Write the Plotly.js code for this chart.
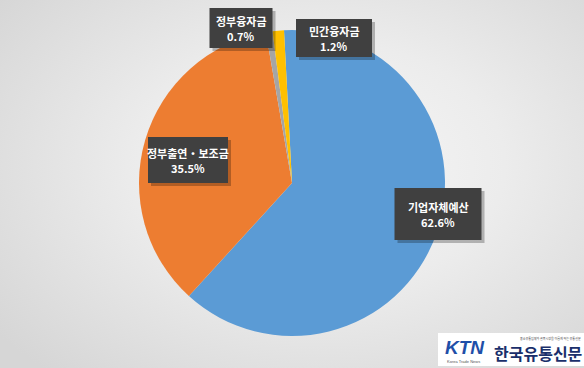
<!DOCTYPE html>
<html>
<head>
<meta charset="utf-8">
<script src="https://cdn.plot.ly/plotly-3.0.1.min.js"></script>
<style>
html, body { margin:0; padding:0; width:584px; height:368px; overflow:hidden;
  background: radial-gradient(ellipse 70% 75% at 55% 45%, #f7f7f7 0%, #ececec 45%, #d6d6d6 100%); }
#chart { width:584px; height:368px; }
</style>
</head>
<body>
<div id="chart"></div>
<script>
const categories = ['기업자체예산', '정부출연・보조금', '정부융자금', '민간융자금'];
const values = [62.6, 35.5, 0.7, 1.2];
const valueLabels = ['62.6%', '35.5%', '0.7%', '1.2%'];
const colors = ['#5B9BD5', '#ED7D31', '#A5A5A5', '#FFC000'];

const W = 584, H = 368;
// label box placements (pixel centre x, y, width, height)
const boxes = [
  {cx: 438, cy: 214, w: 87, h: 52},
  {cx: 188, cy: 160, w: 80, h: 46},
  {cx: 241, cy: 28, w: 63, h: 40},
  {cx: 334, cy: 38, w: 76, h: 38}
];

const px = v => v / W;
const py = v => 1 - v / H;

const shapes = [];
const annotations = [];
const lblFont = {family: 'Noto Sans CJK KR, sans-serif', size: 11, color: '#ffffff', weight: 700};
categories.forEach((c, i) => {
  const b = boxes[i];
  shapes.push({
    type: 'rect', xref: 'paper', yref: 'paper', layer: 'above',
    x0: px(b.cx - b.w / 2 + 3), x1: px(b.cx + b.w / 2 + 3),
    y0: py(b.cy + b.h / 2 + 3), y1: py(b.cy - b.h / 2 + 3),
    fillcolor: 'rgba(0,0,0,0.25)', line: {width: 0}
  });
  shapes.push({
    type: 'rect', xref: 'paper', yref: 'paper', layer: 'above',
    x0: px(b.cx - b.w / 2), x1: px(b.cx + b.w / 2),
    y0: py(b.cy + b.h / 2), y1: py(b.cy - b.h / 2),
    fillcolor: '#404040', line: {width: 0}
  });
  annotations.push({
    xref: 'paper', yref: 'paper', x: px(b.cx), y: py(b.cy - 7),
    xanchor: 'center', yanchor: 'middle', showarrow: false, borderpad: 0,
    text: c, font: lblFont
  });
  annotations.push({
    xref: 'paper', yref: 'paper', x: px(b.cx), y: py(b.cy + 8),
    xanchor: 'center', yanchor: 'middle', showarrow: false, borderpad: 0,
    text: valueLabels[i], font: lblFont
  });
});
// logo
shapes.push({
  type: 'rect', xref: 'paper', yref: 'paper', layer: 'above',
  x0: px(438), x1: px(584), y0: py(366), y1: py(333),
  fillcolor: '#ffffff', line: {width: 0}
});
annotations.push({
  xref: 'paper', yref: 'paper', x: px(465), y: py(347), xanchor: 'center', yanchor: 'middle',
  showarrow: false, text: '<b><i>KTN</i></b>',
  font: {family: 'Liberation Sans, Arial, sans-serif', size: 19, color: '#1f4fa8'}
});
annotations.push({
  xref: 'paper', yref: 'paper', x: px(463), y: py(361), xanchor: 'center', yanchor: 'middle',
  showarrow: false, text: 'Korea Trade News', borderpad: 0,
  font: {family: 'Liberation Sans, Arial, sans-serif', size: 4, color: '#555555'}
});
annotations.push({
  xref: 'paper', yref: 'paper', x: px(538), y: py(353), xanchor: 'center', yanchor: 'middle',
  showarrow: false, text: '<b>한국유통신문</b>', borderpad: 0,
  font: {family: 'Noto Sans CJK KR, sans-serif', size: 16, color: '#1a2f6b'}
});
annotations.push({
  xref: 'paper', yref: 'paper', x: px(550), y: py(338), xanchor: 'center', yanchor: 'middle',
  showarrow: false, text: '중소유통업체와 골목시장을 이롭게 하는 유통신문', borderpad: 0,
  font: {family: 'Noto Sans CJK KR, sans-serif', size: 3, color: '#444444'}
});

const trace = {
  type: 'pie',
  labels: categories,
  values: values,
  marker: {colors: colors, line: {color: '#ffffff', width: 0}},
  sort: false,
  direction: 'clockwise',
  rotation: -3,
  textinfo: 'none',
  hoverinfo: 'label+percent',
  showlegend: false,
  domain: {x: [139 / W, 445 / W], y: [(H - 336) / H, (H - 30) / H]}
};

const layout = {
  width: W, height: H,
  margin: {l: 0, r: 0, t: 0, b: 0},
  paper_bgcolor: 'rgba(0,0,0,0)',
  plot_bgcolor: 'rgba(0,0,0,0)',
  showlegend: false,
  shapes: shapes,
  annotations: annotations
};

Plotly.newPlot('chart', [trace], layout, {displayModeBar: false, staticPlot: true});
</script>
</body>
</html>
